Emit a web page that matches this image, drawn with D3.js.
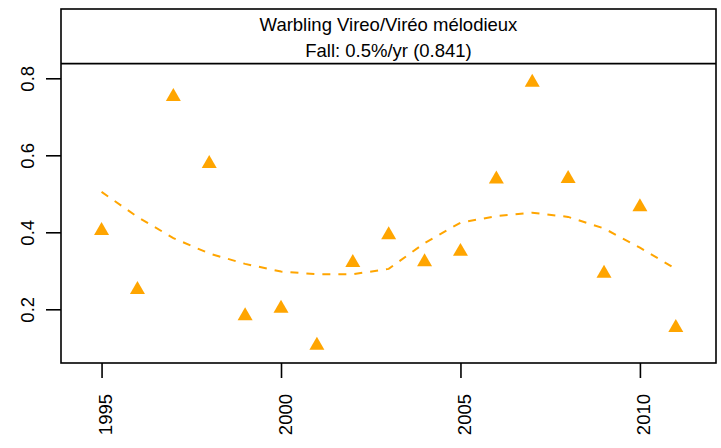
<!DOCTYPE html>
<html>
<head>
<meta charset="utf-8">
<script src="https://cdn.jsdelivr.net/npm/d3@7"></script>
<style>
  html, body { margin: 0; padding: 0; background: #fff; }
  text { font-family: "Liberation Sans", Arial, Helvetica, sans-serif; }
</style>
</head>
<body>
<svg id="chart" width="721" height="448"></svg>
<script>
const years = [1995,1996,1997,1998,1999,2000,2001,2002,2003,2004,2005,2006,2007,2008,2009,2010,2011];
const values = [0.404,0.251,0.752,0.578,0.183,0.202,0.106,0.321,0.393,0.323,0.350,0.538,0.789,0.539,0.293,0.466,0.152];
const trendYears = [1995,1996,1997,1998,1999,2000,2001,2002,2003,2004,2005,2006,2007,2008,2009,2010,2011];
const trendValues = [0.505,0.440,0.385,0.345,0.318,0.298,0.291,0.291,0.305,0.372,0.425,0.442,0.451,0.440,0.410,0.360,0.305];
const xTicks = [1995,2000,2005,2010];
const yTicks = [0.2,0.4,0.6,0.8];
const titleLines = ["Warbling Vireo/Viréo mélodieux", "Fall: 0.5%/yr (0.841)"];

const svg = d3.select("#chart");
const L = 61, R = 716, T = 9, B = 363;
const x = d3.scaleLinear().domain([1993.87, 2012.12]).range([L, R]);
const y = d3.scaleLinear().domain([0.0605, 0.98]).range([B, T]);
const headerY = y(0.838);
const orange = "#FFA500";
const fs = 18.5;

// frame
svg.append("rect").attr("x", L).attr("y", T).attr("width", R - L).attr("height", B - T)
  .attr("fill", "none").attr("stroke", "#000").attr("stroke-width", 1.6);
svg.append("line").attr("x1", L).attr("x2", R).attr("y1", headerY).attr("y2", headerY)
  .attr("stroke", "#000").attr("stroke-width", 1.6);

// title
svg.selectAll("text.title").data(titleLines).enter().append("text")
  .attr("class", "title")
  .attr("x", (L + R) / 2)
  .attr("y", (d, i) => 30.7 + i * 26)
  .attr("text-anchor", "middle")
  .attr("font-size", fs)
  .attr("fill", "#000")
  .text(d => d);

// x axis
const xAxis = d3.axisBottom(x).tickValues(xTicks).tickSize(15).tickFormat(d3.format("d"));
const gx = svg.append("g").attr("transform", `translate(0,${B})`).call(xAxis);
gx.select(".domain").remove();
gx.selectAll(".tick line").attr("stroke", "#000").attr("stroke-width", 1.6);
gx.selectAll(".tick text")
  .attr("font-size", fs)
  .attr("fill", "#000")
  .attr("text-anchor", "end")
  .attr("dy", null)
  .attr("y", null)
  .attr("transform", "translate(10,31) rotate(-90)");

// y axis
const yAxis = d3.axisLeft(y).tickValues(yTicks).tickSize(15).tickFormat(d3.format(".1f"));
const gy = svg.append("g").attr("transform", `translate(${L},0)`).call(yAxis);
gy.select(".domain").remove();
gy.selectAll(".tick line").attr("stroke", "#000").attr("stroke-width", 1.6);
gy.selectAll(".tick text")
  .attr("font-size", fs)
  .attr("fill", "#000")
  .attr("text-anchor", "middle")
  .attr("dy", null)
  .attr("x", null)
  .attr("transform", "translate(-27,0) rotate(-90)");

// trend line
const line = d3.line().x((d, i) => x(trendYears[i])).y(d => y(d));
svg.append("path").datum(trendValues)
  .attr("d", line)
  .attr("fill", "none")
  .attr("stroke", orange)
  .attr("stroke-width", 2)
  .attr("stroke-dasharray", "8,8");

// points (filled triangles, centroid at data point)
const s = 15, h = s * Math.sqrt(3) / 2;
const tri = `M0,${-2 * h / 3}L${s / 2},${h / 3}L${-s / 2},${h / 3}Z`;
svg.selectAll("path.pt").data(values).enter().append("path")
  .attr("class", "pt")
  .attr("d", tri)
  .attr("transform", (d, i) => `translate(${x(years[i])},${y(d)})`)
  .attr("fill", orange);
</script>
</body>
</html>
